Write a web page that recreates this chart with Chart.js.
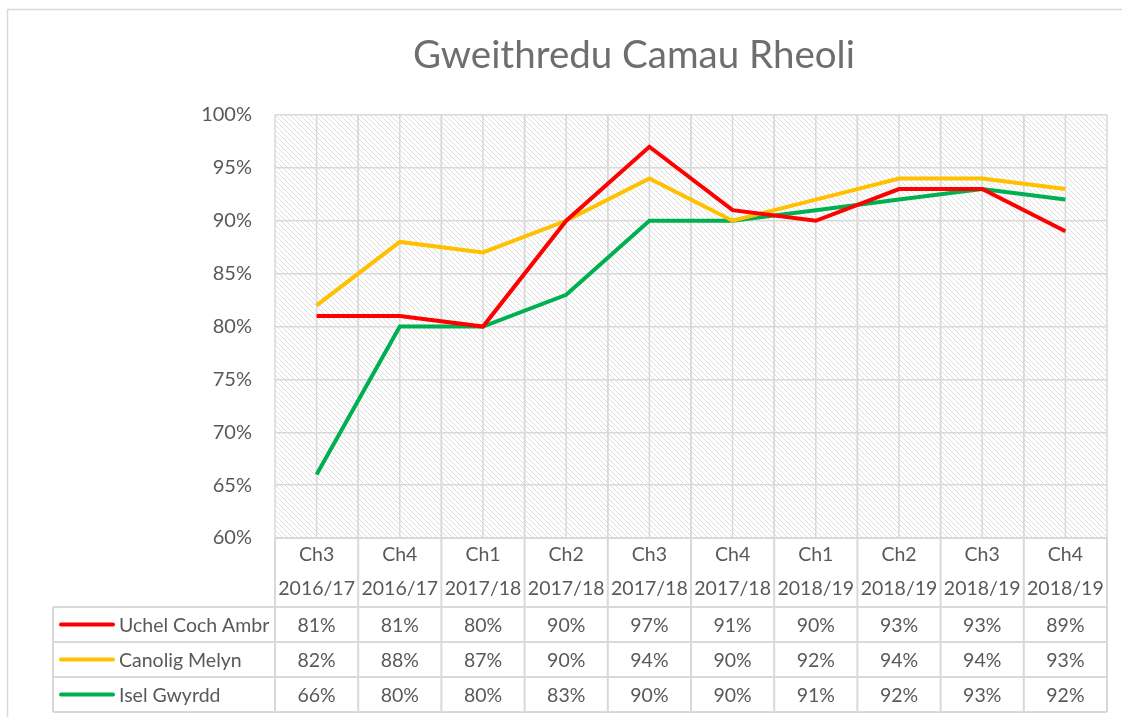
<!DOCTYPE html>
<html>
<head>
<meta charset="utf-8">
<script src="https://cdn.jsdelivr.net/npm/chart.js@4.4.1/dist/chart.umd.min.js"></script>
<style>
  html, body { margin: 0; padding: 0; background: #fff; }
  canvas { display: block; }
</style>
</head>
<body>
<canvas id="camau_chart" width="1122" height="717" style="width:1122px;height:717px"></canvas>
<script>
var quarters = ['Ch3', 'Ch4', 'Ch1', 'Ch2', 'Ch3', 'Ch4', 'Ch1', 'Ch2', 'Ch3', 'Ch4'];
var years = ['2016/17', '2016/17', '2017/18', '2017/18', '2017/18', '2017/18', '2018/19', '2018/19', '2018/19', '2018/19'];
var seriesNames = ['Uchel Coch Ambr', 'Canolig Melyn', 'Isel Gwyrdd'];
var uchelValues = [81, 81, 80, 90, 97, 91, 90, 93, 93, 89];
var canoligValues = [82, 88, 87, 90, 94, 90, 92, 94, 94, 93];
var iselValues = [66, 80, 80, 83, 90, 90, 91, 92, 93, 92];
var yMin = 60, yMax = 100, yStep = 5;

var textColor = '#595959';
var gridColor = '#d9d9d9';
var fontFamily = 'Lato, "Open Sans", sans-serif';

var seriesValues = [uchelValues, canoligValues, iselValues];
var seriesColors = ['#ff0000', '#ffc000', '#00b050'];

function makeHatch(ctx) {
    var n = 5;
    var tile = document.createElement('canvas');
    tile.width = n;
    tile.height = n;
    var t = tile.getContext('2d');
    t.fillStyle = '#ffffff';
    t.fillRect(0, 0, n, n);
    t.fillStyle = '#dedede';
    for (var i = 0; i < n; i++) {
        t.fillRect(i, i, 1, 1);
    }
    return ctx.createPattern(tile, 'repeat');
}

var excelLook = {
    id: 'excelLook',
    beforeDraw: function (chart) {
        var ctx = chart.ctx;
        var a = chart.chartArea;
        ctx.save();
        ctx.fillStyle = '#fff';
        ctx.fillRect(0, 0, chart.width, chart.height);
        // outer chart border
        ctx.strokeStyle = '#d9d9d9';
        ctx.lineWidth = 1.5;
        ctx.beginPath();
        ctx.moveTo(7.5, chart.height);
        ctx.lineTo(7.5, 9.5);
        ctx.lineTo(chart.width, 9.5);
        ctx.stroke();
        // hatched plot area
        ctx.fillStyle = makeHatch(ctx);
        ctx.fillRect(a.left, a.top, a.right - a.left, a.bottom - a.top);
        // title
        ctx.fillStyle = '#6e6e6e';
        ctx.font = '38.5px ' + fontFamily;
        ctx.textAlign = 'center';
        ctx.textBaseline = 'alphabetic';
        ctx.fillText('Gweithredu Camau Rheoli', 634, 68);
        ctx.restore();
    },
    beforeDatasetsDraw: function (chart) {
        var ctx = chart.ctx;
        var a = chart.chartArea;
        var x = chart.scales.x;
        var half = (x.getPixelForValue(1) - x.getPixelForValue(0)) / 2;
        ctx.save();
        ctx.strokeStyle = gridColor;
        ctx.lineWidth = 1.5;
        for (var i = 0; i < quarters.length; i++) {
            var c = x.getPixelForValue(i);
            [c - half, c, c + half].forEach(function (px) {
                ctx.beginPath();
                ctx.moveTo(px, a.top);
                ctx.lineTo(px, a.bottom);
                ctx.stroke();
            });
        }
        ctx.restore();
    },
    afterDraw: function (chart) {
        var ctx = chart.ctx;
        var a = chart.chartArea;
        var x = chart.scales.x;
        var half = (x.getPixelForValue(1) - x.getPixelForValue(0)) / 2;
        var headTop = a.bottom, headBottom = a.bottom + 69;
        var rowH = 35;
        var tableLeft = 53;
        ctx.save();
        ctx.strokeStyle = gridColor;
        ctx.lineWidth = 2;
        // header grid
        ctx.beginPath();
        ctx.moveTo(a.left, headTop);
        ctx.lineTo(a.right, headTop);
        for (var i = 0; i <= quarters.length; i++) {
            var px = x.getPixelForValue(i) - half;
            ctx.moveTo(px, headTop);
            ctx.lineTo(px, headBottom + rowH * seriesNames.length);
        }
        for (var r = 0; r <= seriesNames.length; r++) {
            var py = headBottom + r * rowH;
            ctx.moveTo(tableLeft, py);
            ctx.lineTo(a.right, py);
        }
        ctx.moveTo(tableLeft, headBottom);
        ctx.lineTo(tableLeft, headBottom + rowH * seriesNames.length);
        ctx.stroke();

        ctx.fillStyle = textColor;
        ctx.font = '19.5px ' + fontFamily;
        ctx.textAlign = 'center';
        ctx.textBaseline = 'middle';
        for (var j = 0; j < quarters.length; j++) {
            var cx = x.getPixelForValue(j);
            ctx.fillText(quarters[j], cx, headTop + 17);
            ctx.fillText(years[j], cx, headTop + 51);
            for (var s = 0; s < seriesNames.length; s++) {
                ctx.fillText(seriesValues[s][j] + '%', cx, headBottom + s * rowH + rowH / 2 + 1);
            }
        }
        ctx.textAlign = 'left';
        for (var k = 0; k < seriesNames.length; k++) {
            var cy = headBottom + k * rowH + rowH / 2;
            ctx.strokeStyle = seriesColors[k];
            ctx.lineWidth = 4;
            ctx.lineCap = 'round';
            ctx.beginPath();
            ctx.moveTo(61, cy);
            ctx.lineTo(113, cy);
            ctx.stroke();
            ctx.fillText(seriesNames[k], 119, cy + 1);
        }
        ctx.restore();
    }
};

var ctxCamau = document.getElementById('camau_chart').getContext('2d');
var camauChart = new Chart(ctxCamau, {
    type: 'line',
    data: {
        labels: quarters.map(function (q, i) { return [q, years[i]]; }),
        datasets: seriesNames.map(function (name, i) {
            return {
                label: name,
                data: seriesValues[i],
                borderColor: seriesColors[i],
                backgroundColor: seriesColors[i],
                borderWidth: 4,
                pointRadius: 0,
                tension: 0,
                fill: false
            };
        })
    },
    options: {
        responsive: false,
        animation: false,
        devicePixelRatio: 1,
        layout: {
            padding: { left: 0, top: 115, right: 15, bottom: 179 }
        },
        plugins: {
            legend: { display: false },
            title: { display: false },
            tooltip: { enabled: false }
        },
        scales: {
            x: {
                display: false,
                offset: true
            },
            y: {
                min: yMin,
                max: yMax,
                afterFit: function (scale) { scale.width = 275; },
                ticks: {
                    stepSize: yStep,
                    padding: 23,
                    color: textColor,
                    font: { family: fontFamily, size: 20 },
                    callback: function (v) { return v + '%'; }
                },
                grid: {
                    color: gridColor,
                    lineWidth: 1.5,
                    drawTicks: false
                },
                border: { display: false }
            }
        }
    },
    plugins: [excelLook]
});
</script>
</body>
</html>
